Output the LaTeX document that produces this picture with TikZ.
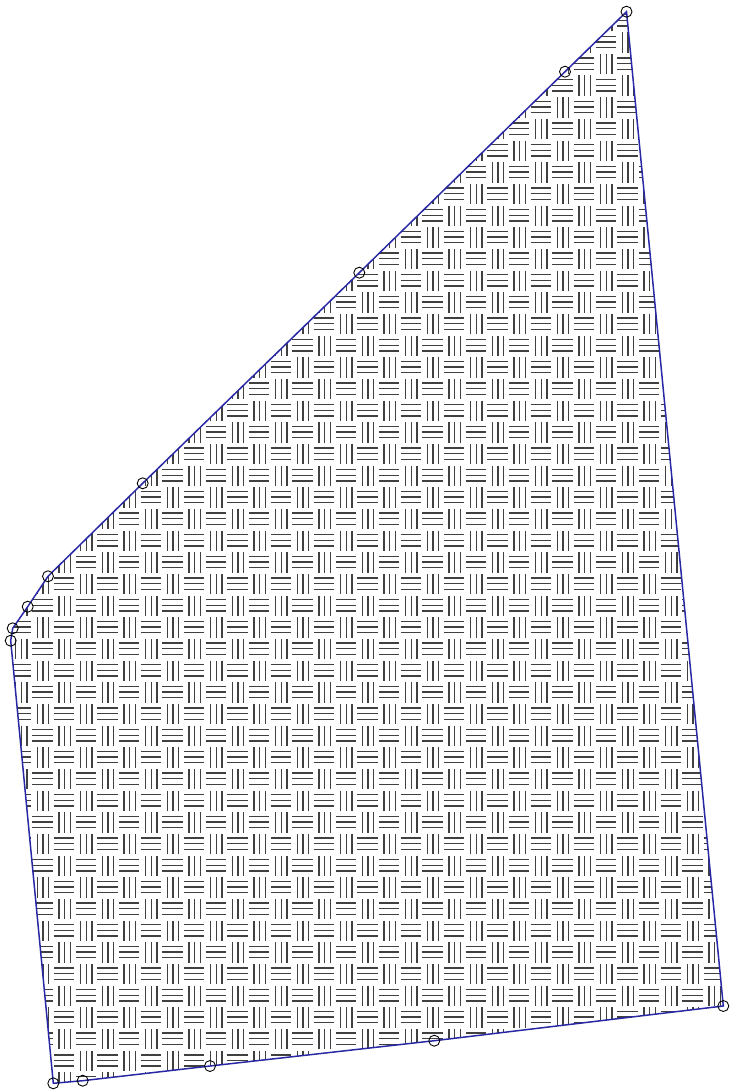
\documentclass[tikz,border=0pt]{standalone}
\begin{document}
\begin{tikzpicture}[x=0.02cm, y=-0.02cm]
    % Màu cho đường viền và các vạch
    \definecolor{edgeblue}{RGB}{40,40,165}
    \tikzset{weave/.style={black!75, line width=0.8pt},
             vertex/.style={draw=black, line width=0.5pt}}

    \useasboundingbox (0,0) rectangle (731,1091);

    % 1. Các đỉnh của đa giác
    \coordinate (P1) at (626.5,11.7);
    \coordinate (P2) at (723.3,1006);
    \coordinate (P3) at (434.3,1040.7);
    \coordinate (P4) at (210,1066);
    \coordinate (P5) at (82.7,1080.7);
    \coordinate (P6) at (53.3,1083.3);
    \coordinate (P7) at (10.7,640.7);
    \coordinate (P8) at (12.7,628.3);
    \coordinate (P9) at (27.7,606.7);
    \coordinate (P10) at (48,576.3);
    \coordinate (P11) at (142.7,483.3);
    \coordinate (P12) at (359.3,272.7);
    \coordinate (P13) at (565,71.7);

    % 2. Hoa văn đan rổ bên trong
    \begin{scope}
    \clip (P1) -- (P2) -- (P3) -- (P4) -- (P5) -- (P6) -- (P7) -- (P8) -- (P9) -- (P10) -- (P11) -- (P12) -- (P13) -- cycle;
    \foreach \r in {0,...,49}{
      \foreach \c in {0,...,33}{
        \pgfmathtruncatemacro{\s}{mod(\r+\c,2)}
        \ifnum\s=0
          \foreach \k in {0.22,0.48,0.74}
            \draw[weave] ({10+21.667*\c+0.5},{10+21.667*(\r+\k)}) -- ++(20.6,0);
        \else
          \foreach \k in {0.26,0.52,0.78}
            \draw[weave] ({10+21.667*(\c+\k)},{10+21.667*\r+0.5}) -- ++(0,20.6);
        \fi
      }
    }
    \end{scope}

    % 3. Đường viền màu xanh
    \draw[edgeblue, line width=0.85pt] (P1) -- (P2) -- (P3) -- (P4) -- (P5) -- (P6) -- (P7) -- (P8) -- (P9) -- (P10) -- (P11) -- (P12) -- (P13) -- cycle;

    % 4. Vòng tròn nhỏ tại các đỉnh
    \foreach \p in {P1,P2,P3,P4,P5,P6,P7,P8,P9,P10,P11,P12,P13}
      \draw[vertex] (\p) circle (5.5);

\end{tikzpicture}
\end{document}
